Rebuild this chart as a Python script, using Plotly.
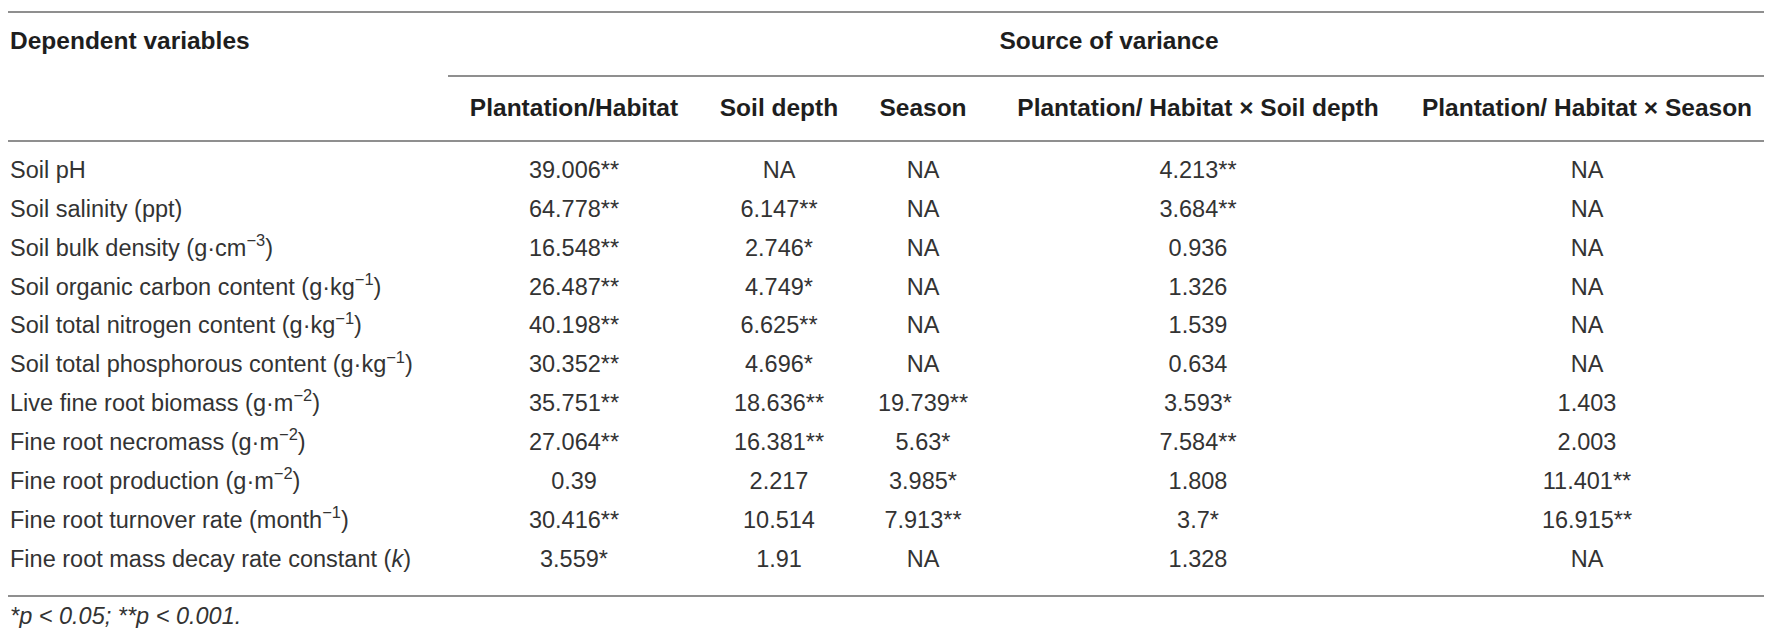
import plotly.graph_objects as go

# table content
variables = [
    "Soil pH",
    "Soil salinity (ppt)",
    "Soil bulk density (g·cm<sup>−3</sup>)",
    "Soil organic carbon content (g·kg<sup>−1</sup>)",
    "Soil total nitrogen content (g·kg<sup>−1</sup>)",
    "Soil total phosphorous content (g·kg<sup>−1</sup>)",
    "Live fine root biomass (g·m<sup>−2</sup>)",
    "Fine root necromass (g·m<sup>−2</sup>)",
    "Fine root production (g·m<sup>−2</sup>)",
    "Fine root turnover rate (month<sup>−1</sup>)",
    "Fine root mass decay rate constant (<i>k</i>)",
]
plantation = ["39.006**", "64.778**", "16.548**", "26.487**", "40.198**", "30.352**",
              "35.751**", "27.064**", "0.39", "30.416**", "3.559*"]
soil_depth = ["NA", "6.147**", "2.746*", "4.749*", "6.625**", "4.696*",
              "18.636**", "16.381**", "2.217", "10.514", "1.91"]
season = ["NA", "NA", "NA", "NA", "NA", "NA",
          "19.739**", "5.63*", "3.985*", "7.913**", "NA"]
plant_x_depth = ["4.213**", "3.684**", "0.936", "1.326", "1.539", "0.634",
                 "3.593*", "7.584**", "1.808", "3.7*", "1.328"]
plant_x_season = ["NA", "NA", "NA", "NA", "NA", "NA",
                  "1.403", "2.003", "11.401**", "16.915**", "NA"]

col_headers = ["Plantation/Habitat", "Soil depth", "Season",
               "Plantation/ Habitat × Soil depth", "Plantation/ Habitat × Season"]
columns = [plantation, soil_depth, season, plant_x_depth, plant_x_season]
first_header = "Dependent variables"
group_header = "Source of variance"
footnote = "<i>*p &lt; 0.05; **p &lt; 0.001.</i>"

# layout (pixels)
W, H = 1772, 628
col_x = [566, 771, 915, 1190, 1579]
row0, row_h = 164, 38.9
row_y = [row0 + row_h * i for i in range(len(variables))]
LINE = "#8f8f8f"
body_font = dict(family="Liberation Sans, Arial, sans-serif", size=23.5, color="#333333")
head_font = dict(family="Liberation Sans, Arial, sans-serif", size=24.5, color="#1e1e1e", weight="bold")

fig = go.Figure()

fig.add_trace(go.Scatter(x=[2] * len(variables), y=row_y, text=variables, mode="text",
                         textposition="middle right", textfont=body_font, hoverinfo="skip"))
for cx, vals in zip(col_x, columns):
    fig.add_trace(go.Scatter(x=[cx] * len(vals), y=row_y, text=vals, mode="text",
                             textposition="middle center", textfont=body_font, hoverinfo="skip"))

fig.add_trace(go.Scatter(x=col_x, y=[102] * len(col_x), text=col_headers, mode="text",
                         textposition="middle center", textfont=head_font, hoverinfo="skip"))
fig.add_trace(go.Scatter(x=[2, 1101], y=[35, 35], text=[first_header, group_header], mode="text",
                         textposition=["middle right", "middle center"], textfont=head_font,
                         hoverinfo="skip"))
fig.add_trace(go.Scatter(x=[2], y=[610], text=[footnote], mode="text",
                         textposition="middle right", textfont=body_font, hoverinfo="skip"))

# rules
for x0, x1, y in [(0, 1766, 4), (440, 1766, 68), (0, 1766, 133), (0, 1766, 588)]:
    fig.add_shape(type="line", x0=x0, x1=x1, y0=y, y1=y, xref="x", yref="y",
                  line=dict(color=LINE, width=2))

fig.update_layout(
    width=W, height=H, margin=dict(l=0, r=0, t=0, b=0),
    paper_bgcolor="white", plot_bgcolor="white", showlegend=False,
    xaxis=dict(range=[0, W], visible=False, fixedrange=True),
    yaxis=dict(range=[H, 0], visible=False, fixedrange=True),
)

fig.write_html("out.html")
